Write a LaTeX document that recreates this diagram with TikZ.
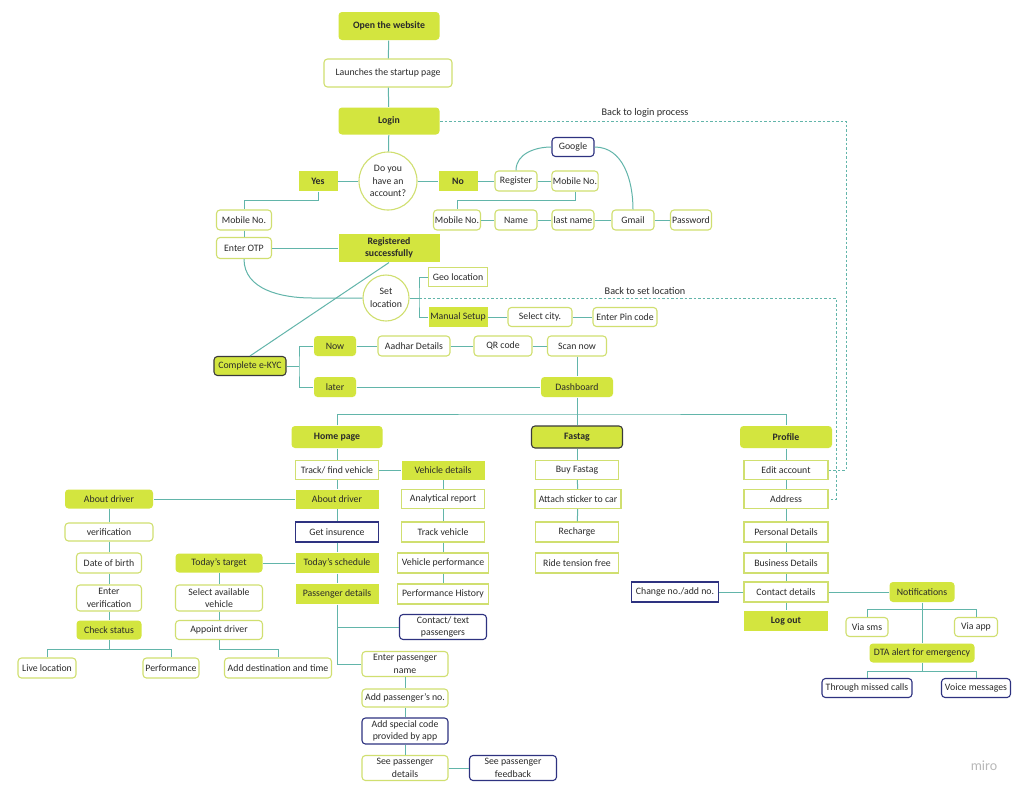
\documentclass[tikz,border=0pt]{standalone}
\usepackage{fontspec}
\setmainfont{Carlito}
\definecolor{lime}{HTML}{D3E53F}
\definecolor{lgr}{HTML}{D0DF70}
\definecolor{conn}{HTML}{62B5AA}
\definecolor{navy}{HTML}{2E3280}
\definecolor{dark}{HTML}{3A3A3A}
\definecolor{txt}{HTML}{2A2A2A}
\tikzset{
 base/.style={font=\fontsize{9.8}{12.6}\selectfont, text=txt, inner sep=1pt, align=center, line width=1.1pt},
 gb/.style={base, fill=lime, rounded corners=3.5pt},
 gs/.style={base, fill=lime},
 wb/.style={base, draw=lgr, fill=white, rounded corners=3.5pt},
 ws/.style={base, draw=lgr, fill=white},
 nb/.style={base, draw=navy, fill=white, rounded corners=3.5pt},
 ns/.style={base, draw=navy, fill=white},
 bf/.style={font=\fontsize{9.8}{12.6}\selectfont\bfseries},
 wh/.style n args={2}{minimum width=#1pt, minimum height=#2pt},
 con/.style={draw=conn, line width=1pt},
 dsh/.style={draw=conn, line width=0.9pt, dash pattern=on 2.5pt off 2pt},
 lbl/.style={font=\fontsize{10.2}{11}\selectfont, text=txt, inner sep=0pt},
}
\begin{document}
\begin{tikzpicture}[x=1pt,y=-1pt]
\useasboundingbox[fill=white] (0,0) rectangle (1024,795);
% top
\node[gb,bf,wh={101}{28}] (open) at (389,26) {Open the website};
\node[wb,wh={128}{28}] (launch) at (388,73) {Launches the startup page};
\node[gb,bf,wh={101}{27}] (login) at (389,121) {Login};
\node[base,circle,draw=lgr,fill=white,minimum size=58pt,inner sep=0pt] (q) at (388,181) {Do you\\have an\\account?};
\node[gs,bf,wh={39}{20}] (yes) at (318,181) {Yes};
\node[gs,bf,wh={39}{20}] (no) at (458,181) {No};
\node[wb,wh={42}{20}] (register) at (516,181) {Register};
\node[wb,wh={46}{20}] (mob1) at (575,181) {Mobile No.};
\node[nb,wh={42}{19}] (google) at (573,147) {Google};
\node[wb,wh={47}{20}] (mob2) at (457,220) {Mobile No.};
\node[wb,wh={42}{20}] (name) at (516,220) {Name};
\node[wb,wh={42}{20}] (lname) at (573,220) {last name};
\node[wb,wh={42}{20}] (gmail) at (633,220) {Gmail};
\node[wb,wh={41}{20}] (pwd) at (691,220) {Password};
\node[wb,wh={55}{20}] (mobL) at (244,220) {Mobile No.};
\node[wb,wh={55}{21}] (otp) at (244,248) {Enter OTP};
\node[gs,bf,wh={101}{28},inner sep=0pt] (reg) at (389,248) {Registered\\successfully};
\node[base,circle,draw=lgr,fill=white,minimum size=46pt,inner sep=0pt] (setloc) at (386,298) {Set\\location};
\node[ws,wh={59}{19}] (geo) at (458,277) {Geo location};
\node[gs,wh={59}{20}] (manual) at (458,317) {Manual Setup};
\node[wb,wh={64}{19}] (city) at (540,317) {Select city.};
\node[wb,wh={64}{19}] (pin) at (625,317) {Enter Pin code};
\node[gb,draw=dark,wh={72}{19}] (ekyc) at (250,366) {Complete e-KYC};
\node[gb,wh={42}{20}] (now) at (335,346) {Now};
\node[gb,wh={42}{20}] (later) at (335,387) {later};
\node[wb,wh={72}{20}] (aadhar) at (414,346) {Aadhar Details};
\node[wb,wh={58}{20}] (qr) at (503,346) {QR code};
\node[wb,wh={59}{20}] (scan) at (577,346) {Scan now};
\node[gb,wh={72}{20}] (dash) at (577,387) {Dashboard};
\node[gb,bf,wh={91}{22}] (home) at (337,437) {Home page};
\node[gb,bf,draw=dark,wh={91}{22}] (fast) at (577,437) {Fastag};
\node[gb,bf,wh={92}{22}] (prof) at (786,437) {Profile};
% home column
\node[ws,wh={83}{19}] (track) at (337,470) {Track/ find vehicle};
\node[gs,wh={83}{19}] (aboutd) at (337,499) {About driver};
\node[ns,wh={83}{20}] (ins) at (337,532) {Get insurence};
\node[gs,wh={83}{20}] (sched) at (337,563) {Today's schedule};
\node[gs,wh={83}{20}] (pass) at (337,594) {Passenger details};
\node[nb,wh={87}{25},inner sep=0pt] (contact) at (443,627) {Contact/ text\\passengers};
\node[gs,wh={83}{19}] (vdet) at (443,470) {Vehicle details};
\node[ws,wh={83}{19}] (anal) at (443,499) {Analytical report};
\node[ws,wh={83}{20}] (trackv) at (443,532) {Track vehicle};
\node[ws,wh={91}{20}] (vperf) at (443,563) {Vehicle performance};
\node[ws,wh={91}{20}] (phist) at (443,594) {Performance History};
% fastag column
\node[ws,wh={83}{19}] (buy) at (577,470) {Buy Fastag};
\node[ws,wh={86}{19}] (attach) at (578,499) {Attach sticker to car};
\node[ws,wh={83}{20}] (recharge) at (577,532) {Recharge};
\node[ws,wh={83}{20}] (ride) at (577,563) {Ride tension free};
% profile column
\node[ws,wh={84}{19}] (edit) at (786,470) {Edit account};
\node[ws,wh={84}{19}] (addr) at (786,499) {Address};
\node[ws,wh={84}{20}] (pers) at (786,532) {Personal Details};
\node[ws,wh={84}{20}] (bus) at (786,563) {Business Details};
\node[ws,wh={84}{20}] (cont) at (786,592) {Contact details};
\node[gs,bf,wh={84}{20}] (logout) at (786,621) {Log out};
\node[ns,wh={87}{20}] (change) at (675,592) {Change no./add no.};
\node[gb,wh={65}{20}] (notif) at (922,592) {Notifications};
\node[wb,wh={42}{19}] (sms) at (867,627) {Via sms};
\node[wb,wh={43}{19}] (app) at (976,627) {Via app};
\node[gb,wh={105}{19}] (dta) at (922,653) {DTA alert for emergency};
\node[nb,wh={90}{19}] (missed) at (867,688) {Through missed calls};
\node[nb,wh={69}{19}] (voice) at (976,688) {Voice messages};
% left side
\node[gb,wh={88}{19}] (aboutL) at (109,499) {About driver};
\node[wb,wh={88}{18}] (verif) at (109,532) {verification};
\node[wb,wh={65}{20}] (dob) at (109,563) {Date of birth};
\node[wb,wh={65}{26},inner sep=0pt] (enterv) at (109,598) {Enter\\verification};
\node[gb,wh={65}{19}] (check) at (109,630) {Check status};
\node[wb,wh={58}{20}] (live) at (47,668) {Live location};
\node[wb,wh={56}{20}] (perf) at (171,668) {Performance};
\node[gb,wh={87}{19}] (target) at (219,563) {Today's target};
\node[wb,wh={87}{26},inner sep=0pt] (selav) at (219,598) {Select available\\vehicle};
\node[wb,wh={87}{19}] (appoint) at (219,630) {Appoint driver};
\node[wb,wh={107}{20}] (adddest) at (278,668) {Add destination and time};
% passenger chain
\node[wb,wh={86}{25},inner sep=0pt] (epn) at (405,664) {Enter passenger\\name};
\node[wb,wh={86}{18}] (addno) at (405,698) {Add passenger's no.};
\node[nb,wh={86}{26},inner sep=0pt] (special) at (405,731) {Add special code\\provided by app};
\node[wb,wh={86}{25},inner sep=0pt] (seepd) at (405,768) {See passenger\\details};
\node[nb,wh={87}{25},inner sep=0pt] (feedback) at (513,768) {See passenger\\feedback};
% labels
\node[lbl] (bl) at (645,113) {Back to login process};
\node[lbl] (bs) at (645,291) {Back to set location};
\node[font=\fontsize{14}{14}\selectfont, text=black!28] (miro) at (984,766) {miro};
% coordinates
\coordinate (y2) at (244,200);
\coordinate (m2) at (457,200);
\coordinate (c1) at (312,298);
\coordinate (ls) at (419,298);
\coordinate (ks) at (299,366);
\coordinate (t) at (577,414);
\coordinate (n1) at (922,609);
\coordinate (n2) at (922,671);
\coordinate (c2) at (109,649);
\coordinate (a2) at (278,649);
\coordinate (d1) at (846,121);
\coordinate (d2) at (836,298);
% connectors
\draw[con] (open) -- (launch);
\draw[con] (launch) -- (login);
\draw[con] (login) -- (q);
\draw[con] (q.west) -- (yes.east);
\draw[con] (q.east) -- (no.west);
\draw[con] (no) -- (register);
\draw[con] (register) -- (mob1);
\draw[con] (register.north) to[out=90,in=180] (google.west);
\draw[con] (google.east) to[out=0,in=90] (gmail.north);
\draw[con] (mob1.south) |- (m2) -- (mob2.north);
\draw[con] (mob2) -- (name);
\draw[con] (name) -- (lname);
\draw[con] (lname) -- (gmail);
\draw[con] (gmail) -- (pwd);
\draw[con] (yes.south) |- (y2) -- (mobL.north);
\draw[con] (mobL) -- (otp);
\draw[con] (otp) -- (reg);
\draw[con] (otp.south) to[out=-90,in=180] (c1) -- (setloc.west);
\draw[con] (reg.south) -- (ekyc.north);
\draw[con] (setloc.east) -- (ls);
\draw[con] (geo.west) -| (ls) |- (manual.west);
\draw[con] (manual) -- (city);
\draw[con] (city) -- (pin);
\draw[con] (ekyc.east) -- (ks);
\draw[con] (now.west) -| (ks) |- (later.west);
\draw[con] (now) -- (aadhar);
\draw[con] (aadhar) -- (qr);
\draw[con] (qr) -- (scan);
\draw[con] (scan) -- (dash);
\draw[con] (later) -- (dash);
\draw[con] (dash.south) -- (fast.north);
\draw[con] (home.north) |- (t) -| (prof.north);
\draw[con] (home) -- (track);
\draw[con] (track) -- (aboutd);
\draw[con] (aboutd) -- (ins);
\draw[con] (ins) -- (sched);
\draw[con] (sched) -- (pass);
\draw[con] (pass.south) |- (epn.west);
\draw[con] (contact.west) -| (pass.south);
\draw[con] (track) -- (vdet);
\draw[con] (vdet) -- (anal);
\draw[con] (anal) -- (trackv);
\draw[con] (trackv) -- (vperf);
\draw[con] (vperf) -- (phist);
\draw[con] (fast) -- (buy);
\draw[con] (buy) -- (attach);
\draw[con] (attach) -- (recharge);
\draw[con] (prof) -- (edit);
\draw[con] (edit) -- (addr);
\draw[con] (addr) -- (pers);
\draw[con] (pers) -- (bus);
\draw[con] (bus) -- (cont);
\draw[con] (cont) -- (logout);
\draw[con] (cont) -- (change);
\draw[con] (cont) -- (notif);
\draw[con] (notif.south) -- (dta.north);
\draw[con] (sms.north) |- (n1) -| (app.north);
\draw[con] (dta.south) -- (n2);
\draw[con] (missed.north) |- (n2) -| (voice.north);
\draw[con] (aboutd.west) -- (aboutL.east);
\draw[con] (aboutL) -- (verif);
\draw[con] (verif) -- (dob);
\draw[con] (dob) -- (enterv);
\draw[con] (enterv) -- (check);
\draw[con] (check.south) -- (c2);
\draw[con] (live.north) |- (c2) -| (perf.north);
\draw[con] (sched.west) -- (target.east);
\draw[con] (target) -- (selav);
\draw[con] (selav) -- (appoint);
\draw[con] (appoint.south) |- (a2) -- (adddest.north);
\draw[con] (epn) -- (addno);
\draw[con] (addno) -- (special);
\draw[con] (special) -- (seepd);
\draw[con] (seepd) -- (feedback);
% dashed returns
\draw[dsh] (login.east) -- (d1) |- (edit.east);
\draw[dsh] (ls) -- (d2) |- (addr.east);
\end{tikzpicture}
\end{document}
